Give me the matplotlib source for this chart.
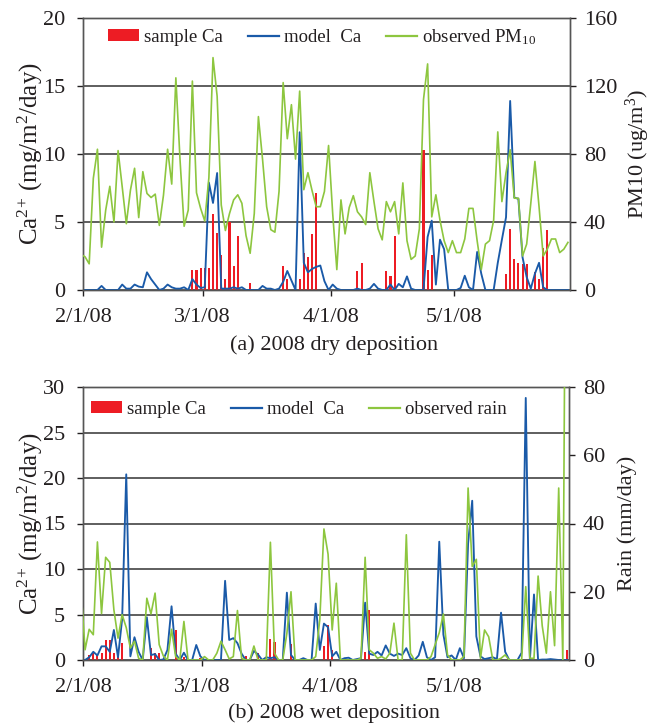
import numpy as np
import pandas as pd
import matplotlib
matplotlib.use('Agg')
import matplotlib.pyplot as plt
import matplotlib.dates as mdates
from matplotlib.patches import Patch
from matplotlib.lines import Line2D

plt.rcParams['font.family'] = ['Liberation Serif', 'DejaVu Serif']
plt.rcParams['mathtext.fontset'] = 'custom'
plt.rcParams['mathtext.rm'] = 'Liberation Serif'
plt.rcParams['mathtext.it'] = 'Liberation Serif:italic'
plt.rcParams['mathtext.bf'] = 'Liberation Serif:bold'

# ---------------- data (daily, 2008-01-31 .. 2008-05-28) ----------------
start_date = '2008-01-31 12:00'
n_days = 119

# (a) dry deposition
pm10 = [21,
        19.5, 15.4, 65.7, 82.8, 25.2, 47, 61, 40, 82, 60.7,
        39, 58.8, 71.6, 42.6, 69.6, 56.8, 54.4, 56.4, 38, 55.8,
        82.8, 62.3, 124.8, 77, 37.5, 47, 122.9, 57.2, 48, 40.6,
        66, 136.7, 114, 50, 35, 45, 53, 56, 51, 32,
        21.6, 45, 102, 77, 49, 35.5, 34, 58, 122, 89,
        109, 77, 117, 59, 69, 58.5, 49, 49, 58, 85,
        45, 12, 53, 33, 48.5, 55.5, 46, 43, 38.5, 69,
        52, 36, 29.5, 52, 46, 52, 33, 63, 29, 18,
        20, 36, 112, 133, 43, 56, 41, 29, 22, 29,
        22, 22, 30, 48, 48, 29, 12, 27, 29, 41,
        93, 52, 69, 82.5, 54, 54, 20, 27, 51, 75.6,
        49, 20, 24, 30, 30, 22, 24, 28]

dry_model_ca = [0,
        0, 0, 0, 0, 0.3, 0, 0, 0, 0, 0.4,
        0.1, 0.1, 0.4, 0.25, 0.2, 1.3, 0.8, 0.4, 0, 0.1,
        0.4, 0.2, 0.1, 0.1, 0.2, 0, 0.8, 0.4, 0.15, 0.2,
        7.9, 6.4, 8.6, 0.1, 0.1, 0.1, 0.2, 0.1, 0.2, 0,
        0, 0, 0, 0.3, 0.1, 0.1, 0, 0.1, 0.6, 1.4,
        0.7, 0, 11.6, 2.0, 1.3, 1.55, 1.7, 1.8, 0.65, 0,
        0.4, 0.1, 0, 0, 0, 0, 0.1, 0, 0, 0.1,
        0.45, 0.1, 0, 0, 0.4, 0, 0.45, 0.2, 1.0, 0.1,
        0, 0, 0, 3.9, 5.1, 0.4, 3.7, 3.0, 0, 0,
        0, 0.15, 1.05, 0.2, 0, 2.8, 1.2, 0, 0, 0,
        2.0, 3.7, 5.35, 13.9, 6.8, 6.7, 2.4, 0.95, 0.1, 1.2,
        2.0, 0.2, 0, 0, 0, 0, 0, 0]

dry_sample_ca = [0,
        0, 0, 0, 0, 0, 0, 0, 0, 0, 0,
        0, 0, 0, 0, 0, 0, 0, 0, 0, 0,
        0, 0, 0, 0, 0, 0, 1.45, 1.5, 1.6, 1.6,
        1.6, 5.6, 4.2, 2.6, 0.8, 5.0, 1.8, 4.0, 0, 0,
        0.5, 0, 0, 0, 0, 0, 0, 0, 1.8, 0.8,
        0, 0, 0.8, 2.7, 2.4, 4.1, 7.1, 0, 0, 0,
        0, 0, 0, 0, 0, 0, 1.4, 2.0, 0, 0,
        0, 0, 0, 1.4, 1.0, 4.0, 0, 0, 0, 0,
        0, 0, 10.3, 1.5, 2.6, 0, 0, 0, 0, 0,
        0, 0, 0, 0, 0, 0, 0, 0, 0, 0,
        0, 0, 1.2, 4.5, 2.3, 2.0, 1.9, 1.9, 0, 1.3,
        0.8, 3.1, 4.4, 0, 0, 0, 0, 0]

# (b) wet deposition
rain = [21,
        3, 9, 7.4, 34.6, 13.6, 30.1, 28.6, 14.7, 6.4, 13.3,
        9.5, 3.5, 5.5, 0.5, 0, 18.1, 13.5, 19.6, 4.5, 1.2,
        0, 9, 1, 0, 11.3, 0, 0, 0, 0, 1,
        0, 0, 2, 5.5, 3, 0.3, 1, 14.5, 0.5, 0,
        0, 4.1, 0, 0, 0, 34.5, 2, 0, 0, 7.8,
        20, 0, 0, 0, 0, 0, 1, 12, 38.4, 31,
        8.8, 22.5, 0, 0, 0, 0, 0, 0.5, 30.1, 3,
        2, 0.5, 1, 0.3, 2, 10.8, 0, 0, 36.7, 2,
        0, 0, 0, 0, 1, 4.5, 8, 13.5, 1.5, 0,
        0, 0, 1, 50.4, 27.4, 29.5, 0.5, 8.8, 6.8, 0,
        0, 0.5, 1.5, 0, 0, 0, 0, 21.5, 0.5, 0.5,
        24.6, 10, 2, 20, 4.2, 50.4, 0, 200]

wet_model_ca = [0,
        0, 0.3, 0.9, 0.5, 1.5, 1.5, 0.9, 3.3, 0.3, 4.5,
        20.4, 0.4, 2.5, 0.9, 0, 4.7, 0.55, 0.65, 0, 0.05,
        1.1, 5.9, 0.7, 0, 0.8, 0, 0, 1.65, 0.4, 0,
        0, 0, 0, 0, 8.7, 2.2, 2.4, 1.85, 0.7, 0,
        0, 1.0, 0.6, 0, 0.3, 0.2, 0.3, 0, 0, 7.4,
        0.55, 0, 0, 0.2, 0, 0, 6.2, 1.1, 4.0, 3.6,
        0.4, 0.9, 0, 0.2, 0.25, 0, 0.1, 0.2, 6.3, 0.7,
        0.55, 0.9, 0.5, 1.6, 0.7, 0.45, 0.7, 0.55, 1.3, 0.2,
        0, 0.5, 2.0, 0.3, 0, 0.3, 13.0, 2.8, 0.3, 0.5,
        0, 1.3, 0.2, 12.8, 17.5, 2.6, 0.4, 0.1, 0.2, 0.3,
        0.1, 5.2, 0.9, 0, 0, 0, 0.8, 28.8, 0, 7.2,
        0, 0.05, 0.05, 0.1, 0.05, 0, 0, 0]

wet_sample_ca = [0,
        0, 0.5, 0.8, 0.6, 0.8, 2.2, 2.2, 0.8, 0.4, 1.9,
        0, 0, 0, 0, 0, 0, 1.3, 0.8, 0.8, 0,
        0, 0, 3.3, 0, 0.35, 0, 0, 0, 0.2, 0,
        0, 0, 0, 0, 0, 0, 0, 0, 0, 0.45,
        0, 0, 0.8, 0, 0, 2.3, 2.0, 0, 0, 0,
        1.8, 0, 0, 0, 0, 0, 0, 0, 1.5, 3.9,
        1.1, 0, 0, 0, 0, 0, 0, 0, 0.9, 5.5,
        0, 0, 0, 0, 0, 0, 0, 0, 0, 0,
        0, 0, 0, 0, 0, 0, 0, 0, 0, 0,
        0, 0, 0, 0, 0, 0, 0, 0, 0, 0,
        0, 0, 0, 0, 0, 0, 0, 0, 0, 0,
        0, 0, 0, 0, 0, 0, 0, 1.1]

tick_dates = ['2008-02-01', '2008-03-01', '2008-04-01', '2008-05-01']
tick_labels = ['2/1/08', '3/1/08', '4/1/08', '5/1/08']
x_range = ['2008-02-01', '2008-05-29']
captions = ['(a) 2008 dry deposition', '(b) 2008 wet deposition']

for arr in (pm10, dry_model_ca, dry_sample_ca, rain, wet_model_ca, wet_sample_ca):
    assert len(arr) == n_days, len(arr)

# ---------------- style ----------------
RED = '#ed1c24'
BLUE = '#1a5aa8'
GREEN = '#8dc63f'
TXT = '#231f20'
GRID = '#333333'
SPINE = '#555555'
FS = 16
LFS = 13.5

W, H = 659, 727
fig = plt.figure(figsize=(W / 100, H / 100), dpi=100)

x = mdates.date2num(pd.date_range(start_date, periods=n_days, freq='D'))
xt = mdates.date2num(pd.to_datetime(tick_dates))
xr = mdates.date2num(pd.to_datetime(x_range))


def px_axes(l, t, r, b):
    return fig.add_axes([l / W, 1 - b / H, (r - l) / W, (b - t) / H])


def panel(rect, sample, model, obs, ylim_l, step_l, ylim_r, step_r,
          obs_label, ylab_r, ylab_r_x, caption, cap_y, leg_anchor):
    ax = px_axes(*rect)
    ax.bar(x, sample, width=0.5, color=RED, zorder=2, linewidth=0)
    ax.plot(x, model, color=BLUE, lw=1.35, zorder=3)
    ax.set_xlim(*xr)
    ax.set_ylim(0, ylim_l)
    ax.set_yticks(np.arange(0, ylim_l + 0.1, step_l))
    ax.yaxis.grid(True, color=GRID, lw=1.1)
    ax.set_axisbelow(True)
    ax.set_xticks(xt)
    ax.set_xticklabels(tick_labels)
    ax.tick_params(axis='x', direction='out', length=4, width=1, pad=9,
                   labelsize=FS, colors=TXT)
    ax.tick_params(axis='y', direction='out', length=4, width=1, pad=9,
                   labelsize=FS, colors=TXT)
    ax2 = ax.twinx()
    ax2.plot(x, obs, color=GREEN, lw=1.2, zorder=3)
    ax2.set_ylim(0, ylim_r)
    ax2.set_yticks(np.arange(0, ylim_r + 0.1, step_r))
    ax2.set_xlim(*xr)
    ax2.tick_params(axis='y', direction='out', length=4, width=1, pad=6,
                    labelsize=FS, colors=TXT)
    for a in (ax, ax2):
        for s in a.spines.values():
            s.set_color(SPINE)
            s.set_linewidth(1.0)
    handles = [Patch(facecolor=RED, edgecolor='none'),
               Line2D([], [], color=BLUE, lw=1.6),
               Line2D([], [], color=GREEN, lw=1.6)]
    labels = ['sample Ca', 'model  Ca', obs_label]
    ax2.legend(handles, labels, loc='upper left', bbox_to_anchor=leg_anchor,
               ncol=3, frameon=False, fontsize=LFS, handlelength=1.65,
               handleheight=0.6, handletextpad=0.3, columnspacing=1.3,
               borderaxespad=0, borderpad=0, labelcolor=TXT)
    cy = (rect[1] + rect[3]) / 2
    fig.text(30 / W, 1 - cy / H, 'Ca$^{2}$$^{+}$ (mg/m$^{2}$/day)', rotation=90,
             ha='center', va='center', fontsize=18, color=TXT)
    fig.text(ylab_r_x / W, 1 - cy / H, ylab_r, rotation=90,
             ha='center', va='center', fontsize=FS, color=TXT)
    fig.text(334 / W, 1 - cap_y / H, caption, ha='center', va='center',
             fontsize=FS, color=TXT)
    return ax, ax2


panel((83, 18, 570, 290), dry_sample_ca, dry_model_ca, pm10, 20, 5, 160, 40,
      'observed PM$_{10}$', 'PM10 (ug/m$^{3}$)', 638, captions[0], 345,
      (0.051, 0.967))
panel((83, 387, 569, 660), wet_sample_ca, wet_model_ca, rain, 30, 5, 80, 20,
      'observed rain', 'Rain (mm/day)', 627, captions[1], 713,
      (0.016, 0.949))

fig.savefig('out.png', dpi=100)
